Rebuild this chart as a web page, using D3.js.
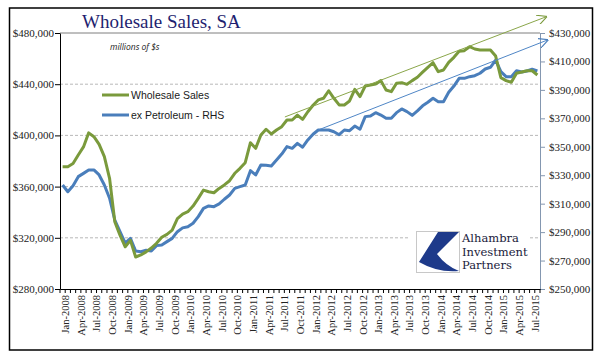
<!DOCTYPE html>
<html><head><meta charset="utf-8">
<script src="https://cdn.jsdelivr.net/npm/d3@7"></script>
<style>body{margin:0;background:#fff}</style>
</head><body>
<svg id="c" width="596" height="358"></svg>
<script>
// ---------- data ----------
const monthNames = ["Jan","Feb","Mar","Apr","May","Jun","Jul","Aug","Sep","Oct","Nov","Dec"];
const years = [2008,2009,2010,2011,2012,2013,2014,2015];
const months = [];
years.forEach(y => monthNames.forEach(m => months.push(m + "-" + y)));
months.splice(92); // Jan-2008 .. Aug-2015

const wholesaleSales = [
  375500,375500,378000,384700,391000,402000,399000,393000,383400,366500,332600,322000,
  313000,318000,305000,306600,309000,312000,315700,320400,322700,326000,335000,338500,
  340400,344800,350800,357300,356000,355200,358600,361300,364600,370400,374300,378700,
  394300,389900,400300,404800,401100,404200,406800,412000,412000,415900,412500,418500,
  423500,427700,429000,434900,429000,423800,423800,426900,436000,430300,438600,439400,
  440200,442800,435500,434200,440700,441200,439900,442800,445400,449400,453200,456800,
  449800,451100,457100,461000,465700,466200,469300,467500,466700,466700,466700,462000,
  445100,442800,441500,448500,449500,450500,450500,447200
];
const exPetroleum = [
  323100,318400,322600,329000,331300,333700,333700,330200,323100,313800,298500,290300,
  282200,285600,276700,276200,277200,276700,280500,281000,283300,285600,290300,293000,
  293800,296200,300900,306700,308400,307900,309800,313100,316100,320800,322000,323100,
  333200,330200,337200,337000,336500,340700,344900,350100,348900,352400,349700,354800,
  358800,361800,361800,361800,360600,358500,361800,361300,364600,362300,371200,371600,
  374000,372300,370000,370000,374000,376600,374700,372100,375200,378800,381300,384100,
  381700,381700,388300,392700,398100,398100,399300,400000,401700,404700,405900,411000,
  402800,399300,399300,403500,402600,403300,404500,403300
];
const leftTicks = [280000,320000,360000,400000,440000,480000];
const rightTicks = [250000,270000,290000,310000,330000,350000,370000,390000,410000,430000];
const seriesNames = ["Wholesale Sales","ex Petroleum - RHS"];
// trend arrows: [month index, value]
const greenTrend = [[42.6,414400],[92.7,492700]];
const blueTrend = [[49,361800],[92.95,425100]];
const logoLines = ["Alhambra","Investment","Partners"];

// ---------- layout ----------
const svg = d3.select("#c");
const L = 60, R = 540, T = 33, B = 289;
const green = "#7A9A3C", blue = "#4A7EBB";

svg.append("rect").attr("x",9.5).attr("y",8).attr("width",583).attr("height",342)
  .attr("fill","#fff").attr("stroke","#000").attr("stroke-width",1.5);

const x = d3.scaleBand().domain(months).range([L,R]).padding(0);
const bw = x.bandwidth();
const xi = d3.scaleLinear().domain([0, months.length]).range([L,R]);
const yL = d3.scaleLinear().domain([280000,480000]).range([B,T]);
const yR = d3.scaleLinear().domain([250000,430000]).range([B,T]);

// gridlines
svg.append("g").selectAll("line").data(leftTicks.filter(d => d>280000 && d<480000))
  .join("line").attr("x1",L).attr("x2",R).attr("y1",d=>yL(d)).attr("y2",d=>yL(d))
  .attr("stroke","#A6A6A6").attr("stroke-dasharray","3,2").attr("stroke-width",0.8);
svg.append("line").attr("x1",L).attr("x2",R).attr("y1",yL(480000)).attr("y2",yL(480000))
  .attr("stroke","#7F7F7F").attr("stroke-width",1);

const fmt = d => "$" + d3.format(",")(d);
const tickFont = "'Liberation Serif','Times New Roman',serif";

// left axis
const gl = svg.append("g").attr("transform",`translate(${L},0)`)
  .call(d3.axisLeft(yL).tickValues(leftTicks).tickSize(5).tickSizeOuter(0).tickFormat(fmt));
gl.select(".domain").attr("stroke","#000");
gl.selectAll(".tick line").attr("stroke","#000");
gl.selectAll("text").attr("font-family",tickFont).attr("font-size",11).attr("fill","#222").attr("x",-6);

// right axis
const gr = svg.append("g").attr("transform",`translate(${R},0)`)
  .call(d3.axisRight(yR).tickValues(rightTicks).tickSize(5).tickSizeOuter(0).tickFormat(fmt));
gr.select(".domain").attr("stroke","#8497B0");
gr.selectAll(".tick line").attr("stroke","#8497B0");
gr.selectAll("text").attr("font-family",tickFont).attr("font-size",11).attr("fill","#222").attr("x",9);

// bottom axis
const gb = svg.append("g").attr("transform",`translate(0,${B})`)
  .call(d3.axisBottom(x).tickSize(4).tickSizeOuter(0).tickFormat((d,i) => i%3===0 ? d : ""));
gb.select(".domain").attr("stroke","#000");
gb.selectAll(".tick line").attr("stroke","#000").attr("transform",`translate(${-bw/2},0)`);
gb.append("line").attr("x1",R).attr("x2",R).attr("y1",0).attr("y2",4).attr("stroke","#000");
gb.selectAll("text").attr("font-family",tickFont).attr("font-size",10.5).attr("fill","#222")
  .attr("transform","rotate(-90)").attr("text-anchor","end")
  .attr("x",-6).attr("y",0).attr("dy","0.62em");

// lines
const lineL = d3.line().x((d,i)=>x(months[i])+bw/2).y(d=>yL(d));
const lineR = d3.line().x((d,i)=>x(months[i])+bw/2).y(d=>yR(d));
svg.append("path").datum(exPetroleum).attr("d",lineR).attr("fill","none")
  .attr("stroke",blue).attr("stroke-width",3).attr("stroke-linejoin","round");
svg.append("path").datum(wholesaleSales).attr("d",lineL).attr("fill","none")
  .attr("stroke",green).attr("stroke-width",3).attr("stroke-linejoin","round");

// arrow markers
const defs = svg.append("defs");
[["ag",green],["ab",blue]].forEach(([id,c]) => {
  defs.append("marker").attr("id",id).attr("viewBox","0 0 10 10").attr("refX",9).attr("refY",5)
    .attr("markerWidth",10).attr("markerHeight",10).attr("markerUnits","userSpaceOnUse").attr("orient","auto")
    .append("path").attr("d","M0,0 L10,5 L0,10").attr("fill","none").attr("stroke",c).attr("stroke-width",1.1);
});
svg.append("line").attr("x1",xi(greenTrend[0][0]+0.5)).attr("y1",yL(greenTrend[0][1]))
  .attr("x2",xi(greenTrend[1][0]+0.5)).attr("y2",yL(greenTrend[1][1]))
  .attr("stroke","#8AA64A").attr("stroke-width",1).attr("marker-end","url(#ag)");
svg.append("line").attr("x1",xi(blueTrend[0][0]+0.5)).attr("y1",yR(blueTrend[0][1]))
  .attr("x2",xi(blueTrend[1][0]+0.5)).attr("y2",yR(blueTrend[1][1]))
  .attr("stroke","#4F86C6").attr("stroke-width",1).attr("marker-end","url(#ab)");

// title
svg.append("text").attr("x",82).attr("y",28).text("Wholesale Sales, SA")
  .attr("font-family","'Liberation Serif','DejaVu Serif',serif").attr("font-size",19).attr("fill","#1F1F70");
svg.append("text").attr("x",110).attr("y",50).text("millions of $s")
  .attr("font-family","'Open Sans','Liberation Sans',sans-serif").attr("font-style","italic")
  .attr("font-size",8.5).attr("fill","#222");

// legend
const lg = svg.append("g");
[[green,95],[blue,115]].forEach(([c,yy],k) => {
  lg.append("line").attr("x1",102).attr("x2",129).attr("y1",yy).attr("y2",yy)
    .attr("stroke",c).attr("stroke-width",3);
  lg.append("text").attr("x",131).attr("y",yy+3.8).text(seriesNames[k])
    .attr("font-family","'Liberation Sans',Arial,sans-serif").attr("font-size",10.5).attr("fill","#1a1a1a");
});

// logo
const logo = svg.append("g");
logo.append("rect").attr("x",410).attr("y",228).attr("width",118).attr("height",48).attr("fill","#fff");
logo.append("rect").attr("x",416.5).attr("y",231.5).attr("width",43).attr("height",41)
  .attr("fill","#fff").attr("stroke","#C8C8C8").attr("stroke-width",1);
logo.append("path").attr("d","M438,232 L459,232 L437,254 Q446,266 459,271 Q438,273 419,262 Z")
  .attr("fill","#1E3A8A");
logoLines.forEach((t,k) => {
  logo.append("text").attr("x",462).attr("y",242+k*13.6).text(t)
    .attr("font-family","'DejaVu Serif','Liberation Serif',serif").attr("font-size",11.5)
    .attr("fill","#1a1a3a");
});
</script>
</body></html>
